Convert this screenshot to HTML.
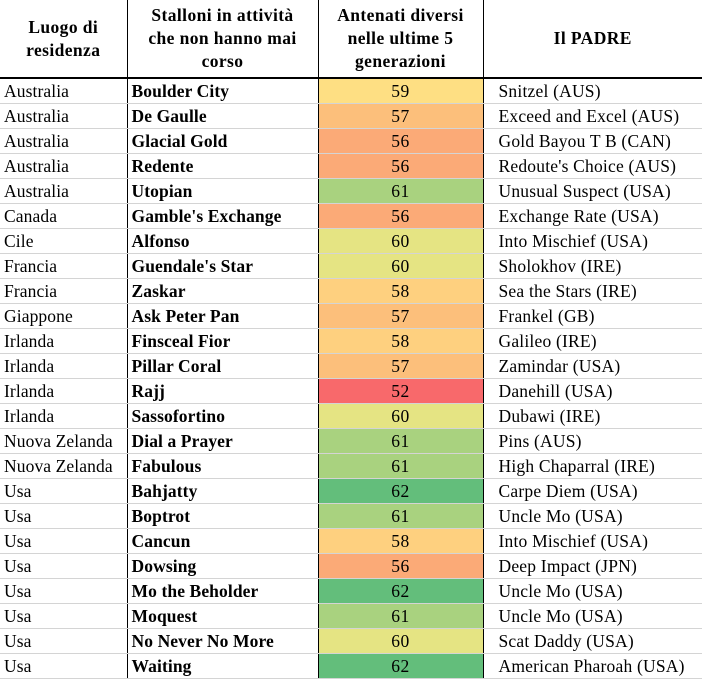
<!DOCTYPE html>
<html><head><meta charset="utf-8"><style>
body{margin:0;background:#fff;}
table{border-collapse:collapse;table-layout:fixed;width:702px;font-family:"Liberation Serif",serif;font-size:17.5px;letter-spacing:0.2px;color:#000;}
td,th{padding:0 0 0 4px;height:24px;border-bottom:1px solid #d4d4d4;white-space:nowrap;overflow:hidden;line-height:24px;}
th{height:77px;border-bottom:2px solid #000;font-weight:bold;text-align:center;line-height:23px;padding:0 1px;font-size:17.5px;letter-spacing:0.4px;}
.b{border-right:1px solid #000;}
td:nth-child(1){letter-spacing:0.1px;}
td.c{text-align:center;padding:0;letter-spacing:0.5px;}
td:nth-child(2){font-weight:bold;letter-spacing:0.1px;}
td:nth-child(4){padding-left:15px;}
</style></head><body>
<table>
<colgroup><col style="width:127px"><col style="width:191px"><col style="width:165px"><col style="width:219px"></colgroup>
<tr><th class="b">Luogo di<br>residenza</th><th class="b">Stalloni in attività<br>che non hanno mai<br>corso</th><th class="b">Antenati diversi<br>nelle ultime 5<br>generazioni</th><th>Il PADRE</th></tr>
<tr><td class="b">Australia</td><td class="b">Boulder City</td><td class="c b" style="background:#FEDF83">59</td><td>Snitzel (AUS)</td></tr>
<tr><td class="b">Australia</td><td class="b">De Gaulle</td><td class="c b" style="background:#FCBF7B">57</td><td>Exceed and Excel (AUS)</td></tr>
<tr><td class="b">Australia</td><td class="b">Glacial Gold</td><td class="c b" style="background:#FBAA77">56</td><td>Gold Bayou T B (CAN)</td></tr>
<tr><td class="b">Australia</td><td class="b">Redente</td><td class="c b" style="background:#FBAA77">56</td><td>Redoute's Choice (AUS)</td></tr>
<tr><td class="b">Australia</td><td class="b">Utopian</td><td class="c b" style="background:#A9D27F">61</td><td>Unusual Suspect (USA)</td></tr>
<tr><td class="b">Canada</td><td class="b">Gamble's Exchange</td><td class="c b" style="background:#FBAA77">56</td><td>Exchange Rate (USA)</td></tr>
<tr><td class="b">Cile</td><td class="b">Alfonso</td><td class="c b" style="background:#E5E483">60</td><td>Into Mischief (USA)</td></tr>
<tr><td class="b">Francia</td><td class="b">Guendale's Star</td><td class="c b" style="background:#E5E483">60</td><td>Sholokhov (IRE)</td></tr>
<tr><td class="b">Francia</td><td class="b">Zaskar</td><td class="c b" style="background:#FED07F">58</td><td>Sea the Stars (IRE)</td></tr>
<tr><td class="b">Giappone</td><td class="b">Ask Peter Pan</td><td class="c b" style="background:#FCBF7B">57</td><td>Frankel (GB)</td></tr>
<tr><td class="b">Irlanda</td><td class="b">Finsceal Fior</td><td class="c b" style="background:#FED07F">58</td><td>Galileo (IRE)</td></tr>
<tr><td class="b">Irlanda</td><td class="b">Pillar Coral</td><td class="c b" style="background:#FCBF7B">57</td><td>Zamindar (USA)</td></tr>
<tr><td class="b">Irlanda</td><td class="b">Rajj</td><td class="c b" style="background:#F8696B">52</td><td>Danehill (USA)</td></tr>
<tr><td class="b">Irlanda</td><td class="b">Sassofortino</td><td class="c b" style="background:#E5E483">60</td><td>Dubawi (IRE)</td></tr>
<tr><td class="b">Nuova Zelanda</td><td class="b">Dial a Prayer</td><td class="c b" style="background:#A9D27F">61</td><td>Pins (AUS)</td></tr>
<tr><td class="b">Nuova Zelanda</td><td class="b">Fabulous</td><td class="c b" style="background:#A9D27F">61</td><td>High Chaparral (IRE)</td></tr>
<tr><td class="b">Usa</td><td class="b">Bahjatty</td><td class="c b" style="background:#63BE7B">62</td><td>Carpe Diem (USA)</td></tr>
<tr><td class="b">Usa</td><td class="b">Boptrot</td><td class="c b" style="background:#A9D27F">61</td><td>Uncle Mo (USA)</td></tr>
<tr><td class="b">Usa</td><td class="b">Cancun</td><td class="c b" style="background:#FED07F">58</td><td>Into Mischief (USA)</td></tr>
<tr><td class="b">Usa</td><td class="b">Dowsing</td><td class="c b" style="background:#FBAA77">56</td><td>Deep Impact (JPN)</td></tr>
<tr><td class="b">Usa</td><td class="b">Mo the Beholder</td><td class="c b" style="background:#63BE7B">62</td><td>Uncle Mo (USA)</td></tr>
<tr><td class="b">Usa</td><td class="b">Moquest</td><td class="c b" style="background:#A9D27F">61</td><td>Uncle Mo (USA)</td></tr>
<tr><td class="b">Usa</td><td class="b">No Never No More</td><td class="c b" style="background:#E5E483">60</td><td>Scat Daddy (USA)</td></tr>
<tr><td class="b">Usa</td><td class="b">Waiting</td><td class="c b" style="background:#63BE7B">62</td><td>American Pharoah (USA)</td></tr>
</table>
</body></html>
